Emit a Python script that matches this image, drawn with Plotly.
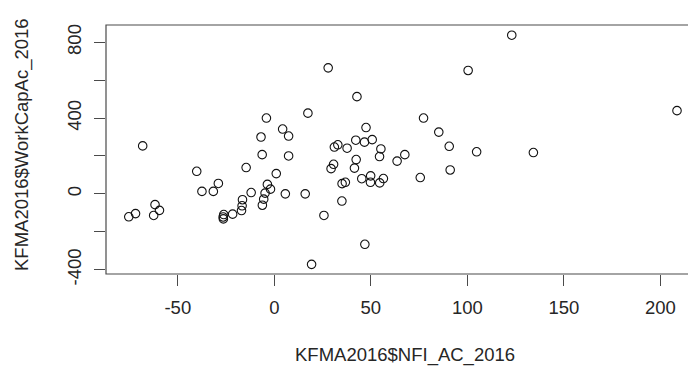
import plotly.graph_objects as go

# Net farm income per acre vs. working capital per acre (KFMA 2016)
nfi_ac = [
    -4.1, -6.9, 4.3, 7.4, -68.2, -6.3, 7.4, -14.6, 1.0, -40.2,
    -29.0, -37.5, -31.6, -12.0, -3.6, -2.0, -4.8, -5.5, -6.2, 5.7,
    -61.8, -59.5, -62.5, -71.9, -75.4, -16.5, -16.7, -17.0, -21.6, -26.2,
    -26.5, -26.4, 27.9, 100.4, 42.8, 17.4, 77.3, 47.5, 85.2, 42.2,
    46.7, 50.7, 31.1, 32.9, 37.7, 55.2, 90.6, 104.8, 54.5, 67.6,
    63.6, 42.4, 41.5, 30.7, 29.4, 36.8, 35.1, 45.3, 49.9, 49.8,
    54.6, 56.5, 75.6, 91.1, 16.0, 35.0, 25.7, 46.9, 19.3, 123.0,
    208.6, 134.2,
]
workcap_ac = [
    400, 300, 342, 305, 253, 207, 200, 139, 107, 119,
    55, 13, 13, 7, 50, 25, 4, -28, -60, 0,
    -57, -87, -114, -104, -121, -31, -63, -88, -107, -109,
    -122, -132, 665, 651, 513, 426, 400, 350, 326, 283,
    273, 286, 247, 259, 241, 237, 251, 222, 197, 207,
    173, 181, 136, 156, 133, 61, 54, 80, 95, 61,
    58, 81, 86, 126, 0, -38, -114, -266, -372, 837,
    439, 218,
]

x_ticks = [-50, 0, 50, 100, 150, 200]
x_tick_text = ["-50", "0", "50", "100", "150", "200"]
y_ticks = [-400, -200, 0, 200, 400, 600, 800]
y_tick_text = ["-400", "", "0", "", "400", "", "800"]

FONT = "Liberation Sans, Arial, sans-serif"
INK = "#262626"
LINE = "#4a4a4a"
FS = 18.5

fig = go.Figure(
    go.Scatter(
        x=nfi_ac,
        y=workcap_ac,
        mode="markers",
        marker=dict(symbol="circle-open", size=8.5, color="#111111",
                    line=dict(width=1.1, color="#111111")),
        hoverinfo="x+y",
    )
)

fig.update_layout(
    width=688,
    height=374,
    margin=dict(l=106, r=0, t=25, b=100),
    paper_bgcolor="white",
    plot_bgcolor="white",
    showlegend=False,
    font=dict(family=FONT, size=FS, color=INK),
    xaxis=dict(
        range=[-87.2, 214.3],
        tickmode="array",
        tickvals=x_ticks,
        ticktext=x_tick_text,
        ticks="outside",
        ticklen=11,
        tickwidth=1,
        tickcolor=LINE,
        ticklabelstandoff=6,
        showgrid=False,
        zeroline=False,
        showline=False,
        tickfont=dict(family=FONT, size=FS, color=INK),
    ),
    yaxis=dict(
        range=[-422.8, 891],
        tickmode="array",
        tickvals=y_ticks,
        ticktext=y_tick_text,
        ticks="outside",
        ticklen=11,
        tickwidth=1,
        tickcolor=LINE,
        tickangle=-90,
        ticklabelstandoff=6,
        showgrid=False,
        zeroline=False,
        showline=False,
        tickfont=dict(family=FONT, size=FS, color=INK),
    ),
    shapes=[
        dict(type="rect", xref="paper", yref="paper", x0=0, x1=1.03, y0=0, y1=1,
             line=dict(color=LINE, width=1.2), fillcolor="rgba(0,0,0,0)"),
    ],
    annotations=[
        dict(text="KFMA2016$NFI_AC_2016", xref="paper", yref="paper",
             x=(405 - 106) / 582, y=-(355 - 274) / 249, showarrow=False,
             xanchor="center", yanchor="middle",
             font=dict(family=FONT, size=FS, color=INK)),
        dict(text="KFMA2016$WorkCapAc_2016", xref="paper", yref="paper",
             x=-(106 - 22) / 582, y=(274 - 145) / 249, showarrow=False,
             textangle=-90, xanchor="center", yanchor="middle",
             font=dict(family=FONT, size=FS, color=INK)),
    ],
)

fig.write_html("out.html")
